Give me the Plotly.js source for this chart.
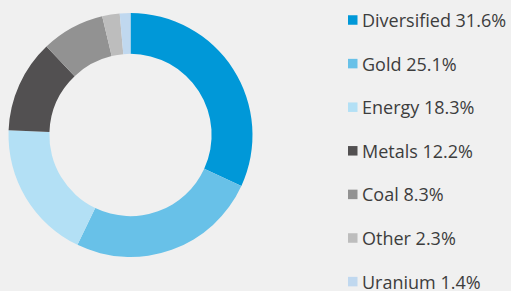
<!DOCTYPE html>
<html><head><meta charset="utf-8">
<script src="https://cdn.plot.ly/plotly-3.0.1.min.js"></script>
<style>html,body{margin:0;padding:0;background:#f0f0f0;}#chart{width:511px;height:291px;}</style>
</head><body><div id="chart"></div>
<script>
const categories = ["Diversified", "Gold", "Energy", "Metals", "Coal", "Other", "Uranium"];
const shares = [31.6, 25.1, 18.3, 12.2, 8.3, 2.3, 1.4];
const colors = ["#0098d8", "#68c1e8", "#b3e0f5", "#525051", "#929292", "#bdbdbd", "#c0d8ef"];

const W = 511, H = 291;
const legendX = 348, textX = 360, firstY = 20, stepY = 43.6, box = 9.5;

const annotations = [], shapes = [];
categories.forEach((c, i) => {
  const y = firstY + i * stepY;
  shapes.push({type: "rect", xref: "paper", yref: "paper",
    x0: legendX / W, x1: (legendX + box) / W,
    y0: 1 - (y + box / 2) / H, y1: 1 - (y - box / 2) / H,
    fillcolor: colors[i], line: {width: 0}});
  annotations.push({xref: "paper", yref: "paper", x: textX / W, y: 1 - y / H,
    xanchor: "left", yanchor: "middle", showarrow: false,
    text: c + " " + shares[i].toFixed(1) + "%",
    font: {family: "Open Sans", size: 18, color: "#3d3d3d"}});
});

Plotly.newPlot("chart", [{
  type: "pie", labels: categories, values: shares, hole: 0.665,
  sort: false, direction: "clockwise", rotation: 0,
  marker: {colors: colors, line: {width: 0}},
  textinfo: "none", hoverinfo: "label+percent",
  domain: {x: [8.5 / W, 252.5 / W], y: [34 / H, 278 / H]}
}], {
  width: W, height: H, margin: {l: 0, r: 0, t: 0, b: 0},
  paper_bgcolor: "#f0f0f0", plot_bgcolor: "#f0f0f0",
  showlegend: false, annotations: annotations, shapes: shapes
}, {displayModeBar: false, staticPlot: true});
</script></body></html>
